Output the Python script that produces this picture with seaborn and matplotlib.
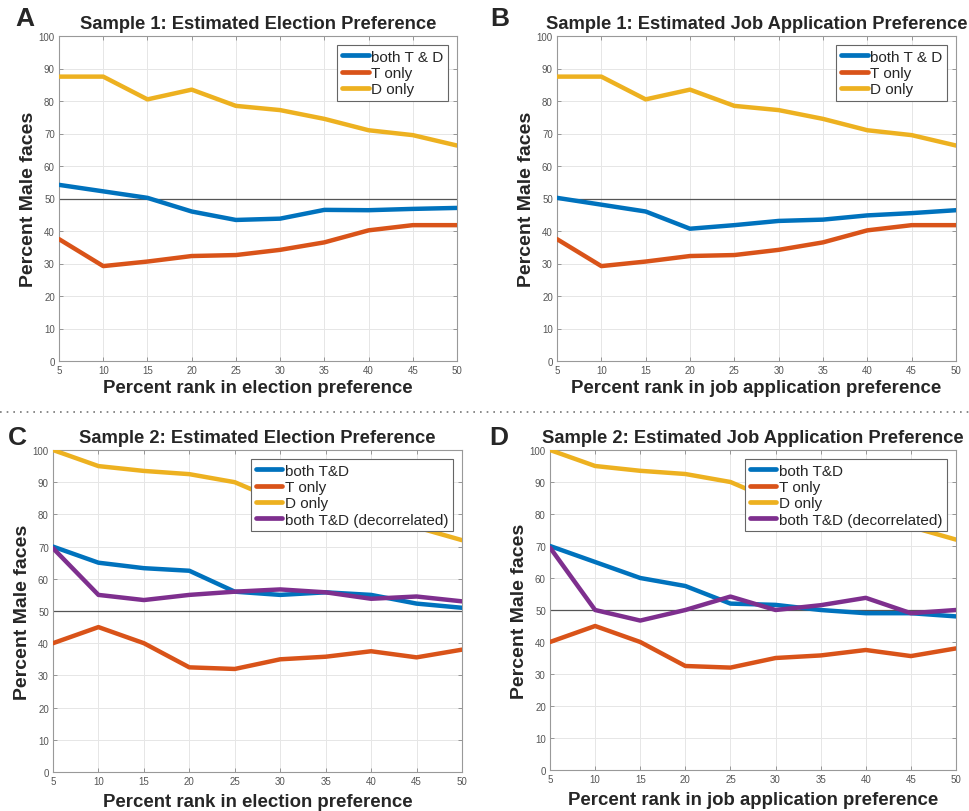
import numpy as np
import pandas as pd
import matplotlib
matplotlib.use("Agg")
import matplotlib.pyplot as plt
from matplotlib.lines import Line2D
import seaborn as sns

# ---------------- data ----------------
x_rank = [5, 10, 15, 20, 25, 30, 35, 40, 45, 50]

# Sample 1
s1_elec_both = [54.2, 52.2, 50.2, 46.0, 43.4, 43.8, 46.5, 46.4, 46.8, 47.1]
s1_job_both = [50.2, 48.1, 46.0, 40.7, 41.8, 43.1, 43.5, 44.8, 45.5, 46.4]
s1_t_only = [37.5, 29.2, 30.6, 32.3, 32.6, 34.2, 36.5, 40.2, 41.8, 41.8]
s1_d_only = [87.5, 87.5, 80.5, 83.5, 78.5, 77.2, 74.5, 71.0, 69.5, 66.3]

# Sample 2
s2_elec_both = [70.0, 65.0, 63.3, 62.5, 56.0, 55.0, 55.8, 55.0, 52.3, 51.0]
s2_elec_decor = [69.5, 55.0, 53.4, 55.0, 56.0, 56.7, 55.8, 53.8, 54.5, 53.0]
s2_job_both = [70.0, 65.0, 60.0, 57.5, 52.0, 51.6, 50.0, 49.0, 49.0, 48.0]
s2_job_decor = [69.5, 50.0, 46.7, 50.0, 54.2, 50.0, 51.5, 53.8, 49.0, 50.0]
s2_t_only = [40.0, 45.0, 40.0, 32.5, 32.0, 35.0, 35.8, 37.5, 35.6, 38.0]
s2_d_only = [100.0, 95.0, 93.5, 92.5, 90.0, 84.0, 81.0, 79.0, 76.0, 72.0]

x_ticks = [5, 10, 15, 20, 25, 30, 35, 40, 45, 50]
y_ticks = [0, 10, 20, 30, 40, 50, 60, 70, 80, 90, 100]

colors = {"blue": "#0072BD", "red": "#D95319", "yellow": "#EDB120", "purple": "#7E2F8E"}

sns.set_theme(style="white")
plt.rcParams["font.family"] = ["Liberation Sans", "DejaVu Sans"]

W, H = 969, 812
fig = plt.figure(figsize=(W / 100, H / 100), dpi=100)

def px_axes(l, t, r, b):
    return fig.add_axes([l / W, 1 - b / H, (r - l) / W, (b - t) / H])

panels = [
    dict(box=(59, 37, 457, 362), letter="A", lpos=(15, 26),
         title="Sample 1: Estimated Election Preference",
         xlabel="Percent rank in election preference",
         series=[("both T & D", s1_elec_both, "blue"), ("T only", s1_t_only, "red"),
                 ("D only", s1_d_only, "yellow")]),
    dict(box=(557, 37, 956, 362), letter="B", lpos=(490, 26),
         title="Sample 1: Estimated Job Application Preference",
         xlabel="Percent rank in job application preference",
         series=[("both T & D", s1_job_both, "blue"), ("T only", s1_t_only, "red"),
                 ("D only", s1_d_only, "yellow")]),
    dict(box=(53, 451, 462, 773), letter="C", lpos=(8, 445),
         title="Sample 2: Estimated Election Preference",
         xlabel="Percent rank in election preference",
         series=[("both T&D", s2_elec_both, "blue"), ("T only", s2_t_only, "red"),
                 ("D only", s2_d_only, "yellow"),
                 ("both T&D (decorrelated)", s2_elec_decor, "purple")]),
    dict(box=(550, 451, 956, 771), letter="D", lpos=(489, 445),
         title="Sample 2: Estimated Job Application Preference",
         xlabel="Percent rank in job application preference",
         series=[("both T&D", s2_job_both, "blue"), ("T only", s2_t_only, "red"),
                 ("D only", s2_d_only, "yellow"),
                 ("both T&D (decorrelated)", s2_job_decor, "purple")]),
]

for i, p in enumerate(panels):
    ax = px_axes(*p["box"])
    ax.axhline(50, color="#555555", lw=0.9, zorder=1)
    for label, vals, c in p["series"]:
        df = pd.DataFrame({"x": x_rank, "y": vals})
        sns.lineplot(data=df, x="x", y="y", ax=ax, color=colors[c], lw=3.2,
                     label=label, zorder=3)
    ax.set_xlim(5, 50)
    ax.set_ylim(0, 100)
    ax.set_xticks(x_ticks)
    ax.set_yticks(y_ticks)
    ax.grid(True, color="#e6e6e6", lw=0.7)
    ax.set_axisbelow(True)
    ax.tick_params(direction="in", length=3, width=0.6, colors="#888888",
                   labelcolor="#555555", labelsize=7, top=True, right=True,
                   bottom=True, left=True, pad=3)
    for s in ax.spines.values():
        s.set_color("#999999")
        s.set_linewidth(0.8)
    ax.set_title(p["title"], fontsize=13.2, fontweight="bold", pad=6)
    ax.set_xlabel(p["xlabel"], fontsize=13.4, fontweight="bold",
                  labelpad=3 if i < 2 else 5)
    ax.set_ylabel("Percent Male faces", fontsize=14, fontweight="bold", labelpad=1)
    leg = ax.legend(loc="upper right", fontsize=11, handlelength=1.75,
                    handletextpad=0.15, borderpad=0.3, labelspacing=0.15,
                    frameon=True, fancybox=False, borderaxespad=0.6,
                    framealpha=1)
    leg.set_zorder(10)
    leg.get_frame().set_edgecolor("#666666")
    leg.get_frame().set_linewidth(0.8)
    for h in leg.get_lines():
        h.set_linewidth(3.4)
    fig.text(p["lpos"][0] / W, 1 - p["lpos"][1] / H, p["letter"], fontsize=19,
             fontweight="bold", ha="left", va="baseline")

fig.add_artist(Line2D([0, 1], [1 - 413 / H, 1 - 413 / H], transform=fig.transFigure,
                      color="#777777", lw=1.2, ls=(0, (1, 3))))

fig.savefig("out.png", dpi=100)
